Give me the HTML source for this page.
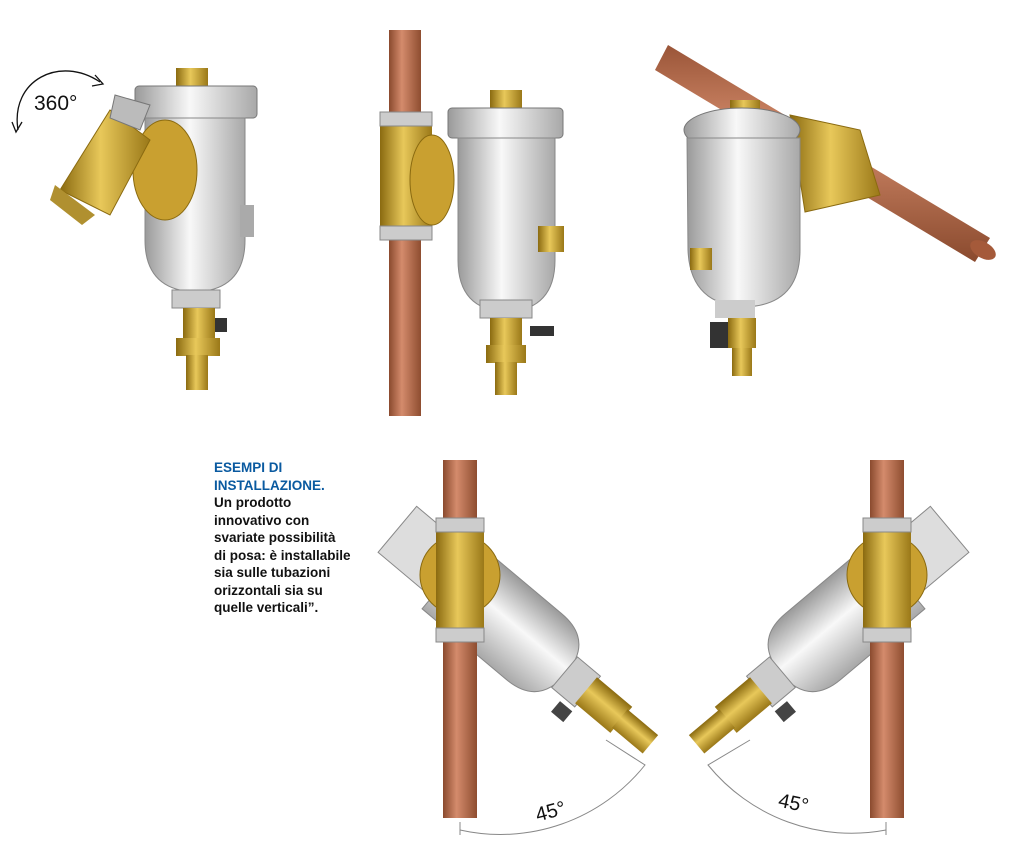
<!DOCTYPE html>
<html><head><meta charset="utf-8"><style>
html,body{margin:0;padding:0;background:#fff;}
svg{display:block;}
.t{font-family:"Liberation Sans",sans-serif;font-weight:bold;font-size:13.5px;line-height:17.5px;position:absolute;left:214px;top:459px;color:#111;}
.t b{color:#0a5aa0;}
</style></head><body>
<div style="position:relative;width:1012px;height:853px;overflow:hidden">
<svg width="1012" height="853" viewBox="0 0 1012 853">
<defs>
<linearGradient id="cu" x1="0" x2="1"><stop offset="0" stop-color="#8a4a2e"/><stop offset=".4" stop-color="#d48b6c"/><stop offset="1" stop-color="#8e4d30"/></linearGradient>
<linearGradient id="cud" x1="0" x2="0" y1="0" y2="1"><stop offset="0" stop-color="#9a5538"/><stop offset=".4" stop-color="#d28a6a"/><stop offset="1" stop-color="#8a4a2e"/></linearGradient>
<linearGradient id="ag" x1="0" x2="1"><stop offset="0" stop-color="#9a9a9a"/><stop offset=".45" stop-color="#f8f8f8"/><stop offset="1" stop-color="#a8a8a8"/></linearGradient>
<linearGradient id="agv" x1="0" x2="0" y1="0" y2="1"><stop offset="0" stop-color="#9a9a9a"/><stop offset=".45" stop-color="#f8f8f8"/><stop offset="1" stop-color="#a8a8a8"/></linearGradient>
<linearGradient id="br" x1="0" x2="1"><stop offset="0" stop-color="#8a6a10"/><stop offset=".45" stop-color="#e8c85a"/><stop offset="1" stop-color="#9a7818"/></linearGradient>
<linearGradient id="brv" x1="0" x2="0" y1="0" y2="1"><stop offset="0" stop-color="#8a6a10"/><stop offset=".45" stop-color="#e8c85a"/><stop offset="1" stop-color="#9a7818"/></linearGradient>
</defs>

<!-- Fig 1 -->
<path d="M18,130 C10,80 60,55 100,82" fill="none" stroke="#111" stroke-width="1.3"/>
<path d="M95,75 L103,84 L92,86" fill="none" stroke="#111" stroke-width="1.3"/>
<path d="M12,122 L16,132 L22,122" fill="none" stroke="#111" stroke-width="1.3"/>
<text x="34" y="110" font-family="Liberation Sans,sans-serif" font-size="21" fill="#111">360°</text>
<rect x="176" y="68" width="32" height="22" fill="url(#br)"/>
<rect x="135" y="86" width="122" height="32" rx="4" fill="url(#ag)" stroke="#777"/>
<path d="M145,118 H245 V240 Q245,290 195,292 Q145,290 145,240 Z" fill="url(#ag)" stroke="#888"/>
<rect x="240" y="205" width="14" height="32" fill="#aaa"/>
<rect x="172" y="290" width="48" height="18" fill="#ccc" stroke="#888"/>
<rect x="183" y="308" width="32" height="32" fill="url(#br)"/>
<rect x="215" y="318" width="12" height="14" fill="#333"/>
<rect x="176" y="338" width="44" height="18" fill="url(#br)"/>
<rect x="186" y="355" width="22" height="35" fill="url(#br)"/>
<ellipse cx="165" cy="170" rx="32" ry="50" fill="#c9a030" stroke="#8a6a10"/>
<path d="M60,190 L110,110 L150,140 L110,215 Z" fill="url(#br)" stroke="#8a6a10"/>
<path d="M55,185 L95,215 L82,225 L50,200 Z" fill="#b09030"/>
<path d="M115,95 L150,105 L140,130 L110,118 Z" fill="#bbb" stroke="#777"/>

<!-- Fig 2 -->
<rect x="389" y="30" width="32" height="386" fill="url(#cu)"/>
<path d="M380,112 H432 V240 H380 Z" fill="url(#br)"/>
<rect x="380" y="112" width="52" height="14" fill="#ccc" stroke="#888"/>
<rect x="380" y="226" width="52" height="14" fill="#ccc" stroke="#888"/>
<ellipse cx="432" cy="180" rx="22" ry="45" fill="#c9a030" stroke="#8a6a10"/>
<rect x="490" y="90" width="32" height="22" fill="url(#br)"/>
<rect x="448" y="108" width="115" height="30" rx="4" fill="url(#ag)" stroke="#777"/>
<path d="M458,138 H555 V260 Q555,310 506,312 Q458,310 458,260 Z" fill="url(#ag)" stroke="#888"/>
<rect x="538" y="226" width="26" height="26" fill="url(#br)"/>
<rect x="480" y="300" width="52" height="18" fill="#ccc" stroke="#888"/>
<rect x="490" y="318" width="32" height="30" fill="url(#br)"/>
<rect x="530" y="326" width="24" height="10" fill="#333"/>
<rect x="486" y="345" width="40" height="18" fill="url(#br)"/>
<rect x="495" y="362" width="22" height="33" fill="url(#br)"/>

<!-- Fig 3 -->
<path d="M668,45 L990,238 L975,262 L655,70 Z" fill="url(#cud)"/>
<ellipse cx="983" cy="250" rx="8" ry="14" transform="rotate(-60 983 250)" fill="#a55a3a"/>
<path d="M790,115 L860,130 L880,195 L805,212 Z" fill="url(#br)" stroke="#8a6a10"/>
<rect x="730" y="100" width="30" height="25" fill="url(#br)"/>
<ellipse cx="742" cy="130" rx="58" ry="22" fill="url(#ag)" stroke="#777"/>
<path d="M687,138 H800 V250 Q800,305 745,307 Q690,305 688,250 Z" fill="url(#ag)" stroke="#888"/>
<rect x="690" y="248" width="22" height="22" fill="url(#br)"/>
<rect x="715" y="300" width="40" height="18" fill="#ccc"/>
<rect x="710" y="322" width="28" height="26" fill="#333"/>
<rect x="728" y="318" width="28" height="30" fill="url(#br)"/>
<rect x="732" y="348" width="20" height="28" fill="url(#br)"/>

<!-- Bottom left -->
<g transform="translate(18,8) rotate(40 470 600)">
<rect x="350" y="568" width="70" height="60" fill="#ddd" stroke="#888"/>
<path d="M420,557 H530 Q572,557 572,600 Q572,643 530,643 H420 Z" fill="url(#agv)" stroke="#888"/>
<rect x="570" y="580" width="30" height="40" fill="#ccc" stroke="#888"/>
<rect x="585" y="625" width="16" height="14" fill="#444"/>
<rect x="598" y="583" width="46" height="34" fill="url(#brv)"/>
<rect x="642" y="588" width="40" height="24" fill="url(#brv)"/>
</g>
<rect x="443" y="460" width="34" height="358" fill="url(#cu)"/>
<circle cx="460" cy="575" r="40" fill="#c9a030" stroke="#8a6a10"/>
<rect x="436" y="520" width="48" height="120" fill="url(#br)"/>
<rect x="436" y="518" width="48" height="14" fill="#ccc" stroke="#888"/>
<rect x="436" y="628" width="48" height="14" fill="#ccc" stroke="#888"/>
<path d="M606,740 L645,765 A185,185 0 0 1 460,830" fill="none" stroke="#888" stroke-width="1"/>
<line x1="460" y1="822" x2="460" y2="835" stroke="#888"/>
<text x="535" y="818" font-family="Liberation Sans,sans-serif" font-size="20" fill="#111" transform="rotate(-15 550 810)">45°</text>

<!-- Bottom right -->
<g transform="translate(-18,8) rotate(-40 877 600)">
<rect x="927" y="568" width="70" height="60" fill="#ddd" stroke="#888"/>
<path d="M927,557 H817 Q775,557 775,600 Q775,643 817,643 H927 Z" fill="url(#agv)" stroke="#888"/>
<rect x="747" y="580" width="30" height="40" fill="#ccc" stroke="#888"/>
<rect x="746" y="625" width="16" height="14" fill="#444"/>
<rect x="703" y="583" width="46" height="34" fill="url(#brv)"/>
<rect x="665" y="588" width="40" height="24" fill="url(#brv)"/>
</g>
<rect x="870" y="460" width="34" height="358" fill="url(#cu)"/>
<circle cx="887" cy="575" r="40" fill="#c9a030" stroke="#8a6a10"/>
<rect x="863" y="520" width="48" height="120" fill="url(#br)"/>
<rect x="863" y="518" width="48" height="14" fill="#ccc" stroke="#888"/>
<rect x="863" y="628" width="48" height="14" fill="#ccc" stroke="#888"/>
<path d="M750,740 L708,765 A185,185 0 0 0 886,830" fill="none" stroke="#888" stroke-width="1"/>
<line x1="886" y1="822" x2="886" y2="835" stroke="#888"/>
<text x="778" y="810" font-family="Liberation Sans,sans-serif" font-size="20" fill="#111" transform="rotate(12 795 805)">45°</text>
</svg>
<div class="t"><b>ESEMPI DI<br>INSTALLAZIONE.</b><br>Un prodotto<br>innovativo con<br>svariate possibilità<br>di posa: è installabile<br>sia sulle tubazioni<br>orizzontali sia su<br>quelle verticali”.</div>
</div>
</body></html>
